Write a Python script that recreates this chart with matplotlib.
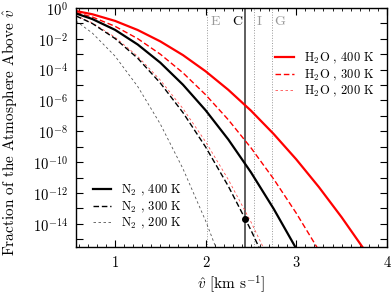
import numpy as np
import matplotlib
matplotlib.use("Agg")
import matplotlib.pyplot as plt
from matplotlib.ticker import FixedLocator, MultipleLocator, FuncFormatter, NullLocator

plt.rcParams['font.family'] = ['cmr10', 'DejaVu Serif']
plt.rcParams['mathtext.fontset'] = 'cm'
plt.rcParams['axes.formatter.use_mathtext'] = True
plt.rcParams['axes.unicode_minus'] = False

# speeds [km/s] and log10 of fraction above speed
speed = [0.57, 0.75, 1.0, 1.25, 1.5, 1.75, 2.0, 2.25, 2.5, 2.75, 3.0, 3.25, 3.5, 3.75]
h2o_400 = [-0.20, -0.41, -0.84, -1.43, -2.17, -3.06, -4.11, -5.31, -6.66, -8.17, -9.82, -11.62, -13.57, -15.67]
h2o_300 = [-0.30, -0.59, -1.19, -1.99, -3.00, -4.21, -5.63, -7.25, -9.07, -11.09, -13.31, -15.73]
h2o_200 = [-0.50, -0.97, -1.90, -3.14, -4.68, -6.53, -8.68, -11.13, -13.88, -16.92]
n2_400 = [-0.36, -0.72, -1.42, -2.37, -3.55, -4.98, -6.64, -8.53, -10.66, -13.02, -15.61]
n2_300 = [-0.52, -1.01, -1.98, -3.26, -4.87, -6.79, -9.02, -11.56, -14.41, -17.57]
n2_200 = [-0.85, -1.63, -3.12, -5.09, -7.53, -10.43, -13.81, -17.64]

# escape speeds of the moons
moon_names = ['E', 'C', 'I', 'G']
moon_vesc = [2.02, 2.43, 2.53, 2.73]
dot_v = 2.43
dot_frac = 2e-14


def curve(vals):
    return speed[:len(vals)], 10.0 ** np.array(vals)


fig = plt.figure(figsize=(3.92, 2.94), dpi=100)
ax = fig.add_axes([0.194, 0.160, 0.793, 0.813])

red = '#ff0000'
h1, = ax.plot(*curve(h2o_400), color=red, lw=1.6, ls='-', label=r'H$_2$O , 400 K')
h2, = ax.plot(*curve(h2o_300), color=red, lw=1.0, ls=(0, (4, 2)), label=r'H$_2$O , 300 K')
h3, = ax.plot(*curve(h2o_200), color='#ff5050', lw=0.6, ls=(0, (3, 3)), label=r'H$_2$O , 200 K')
n1, = ax.plot(*curve(n2_400), color='k', lw=1.6, ls='-', label=r'N$_2$ , 400 K')
n2, = ax.plot(*curve(n2_300), color='k', lw=1.0, ls=(0, (4, 2)), label=r'N$_2$ , 300 K')
n3, = ax.plot(*curve(n2_200), color='#555555', lw=0.6, ls=(0, (3, 3)), label=r'N$_2$ , 200 K')

for name, v in zip(moon_names, moon_vesc):
    if name == 'C':
        ax.axvline(v, color='#333333', lw=1.1, zorder=1)
        ax.text(v - 0.03, 0.12, name, color='k', fontsize=10, ha='right', va='center')
    else:
        ax.axvline(v, color='#999999', lw=0.7, ls=':', zorder=1)
        ax.text(v + 0.03, 0.12, name, color='#999999', fontsize=10, ha='left', va='center')

ax.plot(dot_v, dot_frac, 'o', color='k', ms=4)

ax.set_yscale('log')
ax.set_xlim(0.57, 4.0)
ax.set_ylim(10 ** -15.5, 1.0)

ax.yaxis.set_major_locator(FixedLocator([10.0 ** -k for k in range(0, 16)]))
ax.yaxis.set_minor_locator(NullLocator())


def fmt(y, pos):
    e = int(round(np.log10(y)))
    if e % 2 == 0:
        return r'$10^{%d}$' % e
    return ''


ax.yaxis.set_major_formatter(FuncFormatter(fmt))
ax.xaxis.set_major_locator(MultipleLocator(1))
ax.xaxis.set_minor_locator(MultipleLocator(0.1))
ax.xaxis.set_major_formatter(FuncFormatter(lambda x, p: '%d' % x))

ax.tick_params(which='both', direction='in', top=True, right=True, labelsize=10.5)
ax.tick_params(axis='x', which='major', pad=7)
ax.tick_params(axis='y', which='major', pad=6)
ax.tick_params(which='major', length=5, width=0.8)
ax.tick_params(which='minor', length=2.5, width=0.6)
for s in ax.spines.values():
    s.set_linewidth(1.0)

ax.set_xlabel(r'$\hat{v}$ [km s$^{-1}$]', fontsize=11, labelpad=2)
ax.set_ylabel(r'Fraction of the Atmosphere Above $\hat{v}$', fontsize=11)
ax.yaxis.set_label_coords(-0.185, 0.48)

leg1 = ax.legend(handles=[h1, h2, h3], loc='upper right', bbox_to_anchor=(0.975, 0.84),
                 frameon=False, fontsize=9, handlelength=1.5, handletextpad=0.8,
                 labelspacing=0.1, borderaxespad=0)
ax.add_artist(leg1)
ax.legend(handles=[n1, n2, n3], loc='lower left', bbox_to_anchor=(0.04, 0.045),
          frameon=False, fontsize=9, handlelength=1.4, handletextpad=0.8,
          labelspacing=0.1, borderaxespad=0)

fig.savefig('out.png', dpi=100)
